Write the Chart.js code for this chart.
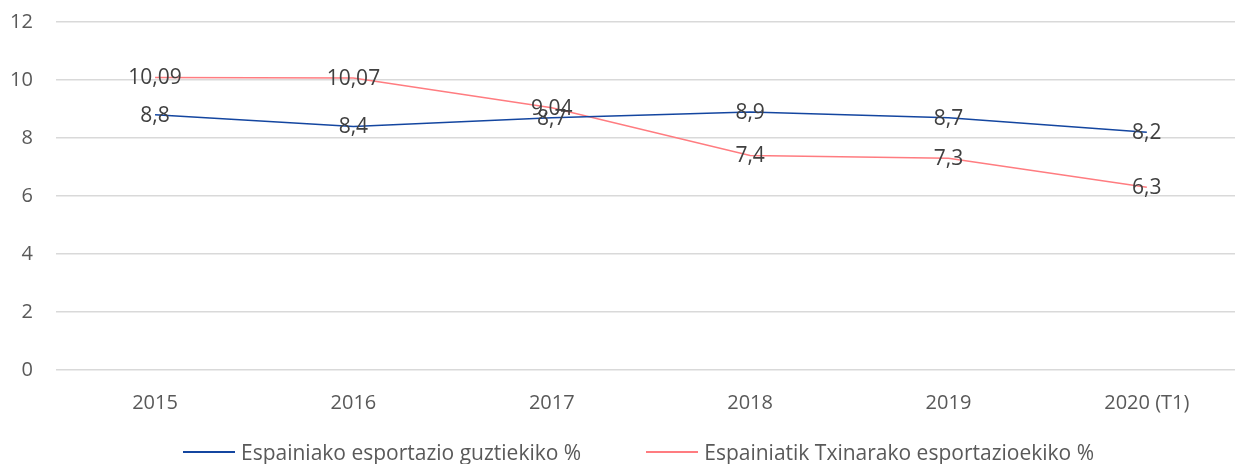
<!DOCTYPE html>
<html>
<head>
<meta charset="utf-8">
<script src="https://cdn.jsdelivr.net/npm/chart.js@4/dist/chart.umd.min.js"></script>
<style>
  html, body { margin: 0; padding: 0; background: #fff; overflow: hidden; }
  #page { position: relative; width: 1235px; height: 464px; overflow: hidden; }
  #wrap { position: absolute; left: 0; top: -13px; width: 1246px; height: 477px; }
  .legend {
    position: absolute; left: 21px; top: 438px; width: 1235px;
    display: flex; justify-content: center; gap: 65px;
    font: 21px 'Open Sans', sans-serif; color: #595959;
  }
  .legend .item { display: flex; align-items: center; }
  .legend .swatch { width: 52px; height: 1.5px; margin-right: 6px; }
</style>
</head>
<body>
<div id="page">
  <div id="wrap"><canvas id="myChart"></canvas></div>
  <div class="legend"></div>
</div>
<script>
// datuak
const years = ["2015", "2016", "2017", "2018", "2019", "2020 (T1)"];
const totalShare = [8.8, 8.4, 8.7, 8.9, 8.7, 8.2]; // Espainiako esportazio guztiekiko %
const chinaShare = [10.09, 10.07, 9.04, 7.4, 7.3, 6.3]; // Espainiatik Txinarako esportazioekiko %
const yTicks = [0, 2, 4, 6, 8, 10, 12];
const seriesNames = ["Espainiako esportazio guztiekiko %", "Espainiatik Txinarako esportazioekiko %"];
const seriesColors = ["#1446a0", "#ff7c80"];

const FONT = "'Open Sans', sans-serif";

// balioak puntuen gainean
const pointLabels = {
  id: "pointLabels",
  afterDatasetsDraw(chart) {
    const ctx = chart.ctx;
    ctx.save();
    ctx.font = "21px " + FONT;
    ctx.fillStyle = "#404040";
    ctx.textAlign = "center";
    ctx.textBaseline = "middle";
    chart.data.datasets.forEach((ds, i) => {
      chart.getDatasetMeta(i).data.forEach((pt, j) => {
        const txt = String(ds.data[j]).replace(".", ",");
        ctx.fillText(txt, pt.x, pt.y + 1);
      });
    });
    ctx.restore();
  },
};

const ctx = document.getElementById("myChart").getContext("2d");
const myChart = new Chart(ctx, {
  type: "line",
  data: {
    labels: years,
    datasets: [totalShare, chinaShare].map((d, i) => ({
      label: seriesNames[i],
      data: d,
      borderColor: seriesColors[i],
      backgroundColor: seriesColors[i],
      borderWidth: 1.5,
      pointRadius: 0,
      tension: 0,
    })),
  },
  options: {
    responsive: true,
    maintainAspectRatio: false,
    animation: false,
    layout: { padding: { top: 0, left: -13, right: 0, bottom: 36 } },
    plugins: {
      tooltip: { enabled: false },
      legend: { display: false },
    },
    scales: {
      x: {
        offset: true,
        grid: { display: false },
        border: { display: false },
        ticks: { font: { family: FONT, size: 20 }, color: "#595959", padding: 13 },
      },
      y: {
        min: 0,
        max: 12,
        afterBuildTicks: (axis) => {
          axis.ticks = yTicks.map((v) => ({ value: v }));
        },
        grid: { color: "#d9d9d9", lineWidth: 1.5, drawTicks: false },
        border: { display: false },
        ticks: { font: { family: FONT, size: 20 }, color: "#595959", padding: 23 },
      },
    },
  },
  plugins: [pointLabels],
});

// legenda
const $legend = document.querySelector(".legend");
myChart.data.datasets.forEach((ds) => {
  const item = document.createElement("div");
  item.className = "item";
  item.innerHTML = `<span class="swatch" style="background:${ds.borderColor}"></span><span>${ds.label}</span>`;
  $legend.appendChild(item);
});
</script>
</body>
</html>
